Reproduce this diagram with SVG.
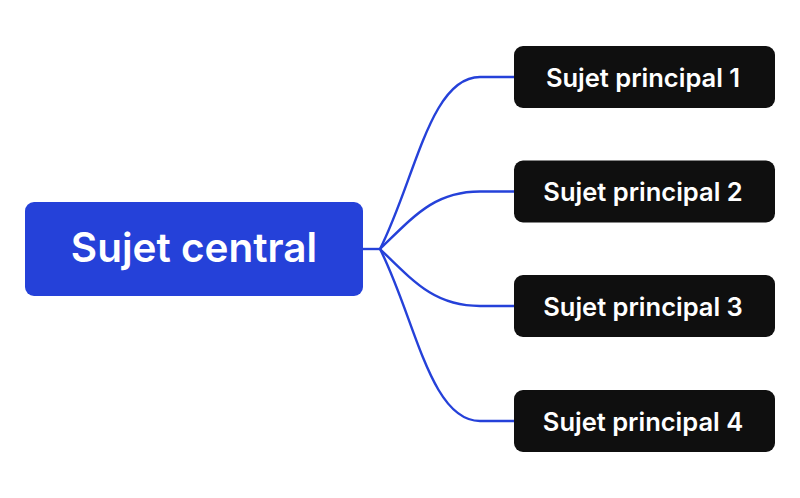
<svg xmlns="http://www.w3.org/2000/svg" width="800" height="498" viewBox="0 0 800 498">
<style>
.c{fill:none;stroke:#2541d9;stroke-width:2.4}
.sub rect{fill:#0f0f0f}
.sub text{fill:#fff;font-family:Inter,"Open Sans",sans-serif;font-weight:600;font-size:25.5px;text-anchor:middle}
</style>
<rect width="800" height="498" fill="#fff"/>
<g id="connectors">
<path class="c" d="M363 249 H380"/>
<path class="c" d="M380 249 C415 180 430 77 480 77 H514"/>
<path class="c" d="M380 249 C415 215 435 191.5 480 191.5 H514"/>
<path class="c" d="M380 249 C415 283 435 306 480 306 H514"/>
<path class="c" d="M380 249 C415 318 430 421 480 421 H514"/>
</g>
<g id="central">
<rect x="25" y="202" width="338" height="94" rx="9" fill="#2541d9"/>
<text x="194" y="262" fill="#fff" font-family="Inter,'Open Sans',sans-serif" font-weight="600" font-size="40.5" text-anchor="middle">Sujet central</text>
</g>
<g id="t1" class="sub"><rect x="514" y="46" width="261" height="62" rx="9"/><text x="643" y="86.5">Sujet principal 1</text></g>
<g id="t2" class="sub"><rect x="514" y="160.5" width="261" height="62" rx="9"/><text x="643" y="201">Sujet principal 2</text></g>
<g id="t3" class="sub"><rect x="514" y="275" width="261" height="62" rx="9"/><text x="643" y="315.5">Sujet principal 3</text></g>
<g id="t4" class="sub"><rect x="514" y="390" width="261" height="62" rx="9"/><text x="643" y="430.5">Sujet principal 4</text></g>
</svg>
